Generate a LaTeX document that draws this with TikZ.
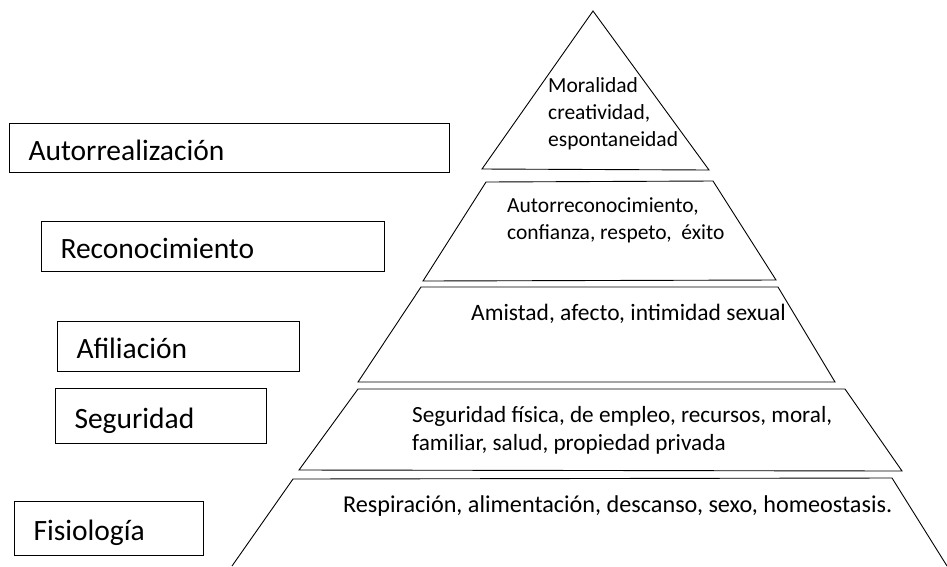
\documentclass[tikz,border=0pt]{standalone}
\usepackage{fontspec}
\setmainfont{Carlito}
\usepackage{tikz}
\usetikzlibrary{calc}
\tikzstyle{nivel}  = [line width=0.9pt, line join=miter]
\tikzstyle{caja}   = [draw, line width=1pt, anchor=north west, align=left, inner xsep=19pt, inner ysep=0pt, text height=24pt, text depth=0pt, font=\fontsize{29.5}{35}\selectfont]
\tikzstyle{texto}  = [anchor=base west, align=left, inner sep=0pt]
\tikzstyle{chico}  = [texto, font=\fontsize{21.5}{27}\selectfont]
\tikzstyle{medio}  = [texto, font=\fontsize{23.5}{28}\selectfont]

\begin{document}
\begin{tikzpicture}[x=1pt, y=-1pt]
  \useasboundingbox (0,0) rectangle (947,566);

  %put the levels of the pyramid
  \draw[nivel] (593,11) -- (709,170) -- (482,169) -- cycle;
  \draw[nivel] (486,182) -- (713,181) -- (776,280) -- (423,281) -- cycle;
  \draw[nivel] (421,287) -- (778,287) -- (835,382) -- (358,382) -- cycle;
  \draw[nivel] (358,389) -- (845,389) -- (902,471) -- (299,470) -- cycle;
  \draw[nivel] (232,566) -- (293,479) -- (892,478) -- (947,566);

  %text inside each level (base = last line)
  \node[chico] (moral) at (548,146) {Moralidad\\creatividad,\\espontaneidad};
  \node[chico] (estima) at (507,239) {Autorreconocimiento,\\confianza, respeto, \ éxito};
  \node[medio] (amistad) at (471,320) {Amistad, afecto, intimidad sexual};
  \node[medio, font=\fontsize{23.2}{28}\selectfont] (segur) at (412,450) {Seguridad física, de empleo, recursos, moral,\\familiar, salud, propiedad privada};
  \node[medio, font=\fontsize{24.2}{28}\selectfont] (respir) at (343,512) {Respiración, alimentación, descanso, sexo, homeostasis.};

  %put the boxes on the left
  \foreach \x/\y/\w/\h/\t [count=\i] in {9/123/440/49/Autorrealización,
      41/221/343/50/Reconocimiento, 57/321/242/50/Afiliación,
      55/388/211/55/Seguridad, 14/501/189/54/Fisiología}{
    \node[caja, text width=\w pt-38pt, minimum height=\h pt] (c\i) at (\x,\y) {\t};
  }
\end{tikzpicture}
\end{document}
